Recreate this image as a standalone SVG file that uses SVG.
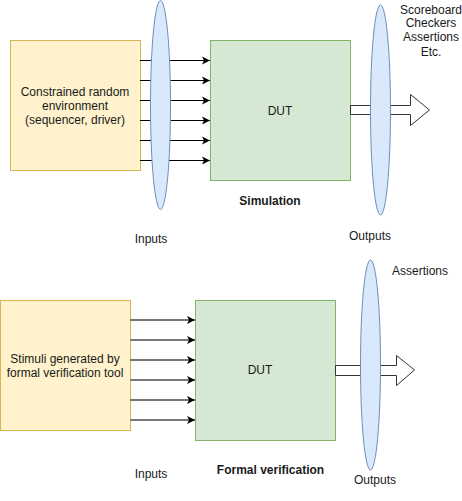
<svg xmlns="http://www.w3.org/2000/svg" width="462" height="501" viewBox="0 0 462 501">
<defs>
<style>
.yel{fill:#fff2cc;stroke:#d6b656;stroke-width:1}
.grn{fill:#d5e8d4;stroke:#82b366;stroke-width:1}
.ell{fill:#dae8fc;stroke:#6c8ebf;stroke-width:1}
.t{font-family:"Liberation Sans",Arial,sans-serif;font-size:12px;fill:#1a1a1a;text-anchor:middle}
.b{font-weight:bold}
.a1{stroke:#000;stroke-width:1;fill:none}
.a2{stroke:#777;stroke-width:2;fill:none}
.big{fill:#fff;stroke:#333;stroke-width:1}
</style>
<marker id="ah" markerUnits="userSpaceOnUse" markerWidth="10" markerHeight="10" viewBox="0 0 10 10" refX="8" refY="5" orient="auto">
<path d="M0,1 L8,5 L0,9 L2,5 Z" fill="#000"/>
</marker>
</defs>
<rect width="462" height="501" fill="#fff"/>

<g id="env">
<rect class="yel" x="10.5" y="40.5" width="130" height="130"/>
<text class="t" x="75" y="96">Constrained random</text>
<text class="t" x="75" y="110">environment</text>
<text class="t" x="75" y="124">(sequencer, driver)</text>
</g>
<g id="dut1">
<rect class="grn" x="210.5" y="40.5" width="140" height="140"/>
<text class="t" x="280" y="115">DUT</text>
</g>
<g id="stim">
<rect class="yel" x="0.5" y="300.5" width="130" height="130"/>
<text class="t" x="65" y="363">Stimuli generated by</text>
<text class="t" x="65" y="377">formal verification tool</text>
</g>
<g id="dut2">
<rect class="grn" x="195.5" y="300.5" width="140" height="140"/>
<text class="t" x="260" y="374">DUT</text>
</g>

<g id="connectors">
<path class="a1" d="M140,60.5 H210" marker-end="url(#ah)"/>
<path class="a1" d="M140,80.5 H210" marker-end="url(#ah)"/>
<path class="a1" d="M140,100.5 H210" marker-end="url(#ah)"/>
<path class="a1" d="M140,120.5 H210" marker-end="url(#ah)"/>
<path class="a1" d="M140,140.5 H210" marker-end="url(#ah)"/>
<path class="a1" d="M140,160.5 H210" marker-end="url(#ah)"/>
<path class="a2" d="M130,320 H195" marker-end="url(#ah)"/>
<path class="a2" d="M130,340 H195" marker-end="url(#ah)"/>
<path class="a2" d="M130,360 H195" marker-end="url(#ah)"/>
<path class="a2" d="M130,380 H195" marker-end="url(#ah)"/>
<path class="a2" d="M130,400 H195" marker-end="url(#ah)"/>
<path class="a2" d="M130,420 H195" marker-end="url(#ah)"/>
<path id="out1" class="big" d="M350.5,105.5 H410.5 V94.5 L429.5,110 L410.5,125.5 V114.5 H350.5 Z"/>
<path id="out2" class="big" d="M335.5,365.5 H396.5 V355.5 L414.5,370 L396.5,385.5 V375.5 H335.5 Z"/>
</g>

<g id="inputs1">
<ellipse class="ell" cx="160.5" cy="105" rx="10" ry="104.5"/>
<text class="t" x="151" y="243">Inputs</text>
</g>
<g id="outputs1">
<ellipse class="ell" cx="380.5" cy="110" rx="10" ry="105"/>
<text class="t" x="370" y="240">Outputs</text>
</g>
<g id="outputs2">
<ellipse class="ell" cx="370.5" cy="365" rx="10" ry="105"/>
<text class="t" x="375" y="484">Outputs</text>
</g>

<g id="labels">
<text class="t" x="431" y="14">Scoreboard</text>
<text class="t" x="431" y="27">Checkers</text>
<text class="t" x="431" y="41">Assertions</text>
<text class="t" x="431" y="56">Etc.</text>
<text class="t b" x="270" y="205">Simulation</text>
<text class="t" x="151" y="478">Inputs</text>
<text class="t b" x="270.5" y="474">Formal verification</text>
<text class="t" x="420" y="275">Assertions</text>
</g>
</svg>
